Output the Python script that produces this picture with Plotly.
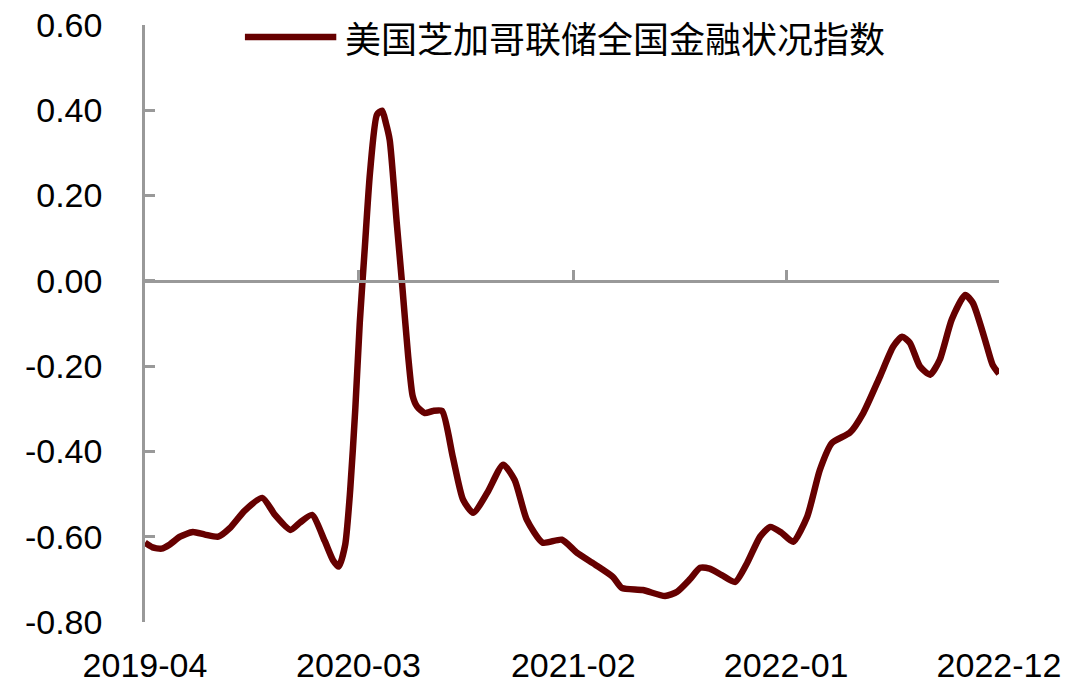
import plotly.graph_objects as go

# Data
dates = [
    "2019-04-01", "2019-04-13", "2019-04-27", "2019-05-10", "2019-05-26", "2019-06-15",
    "2019-07-04", "2019-07-25", "2019-08-12", "2019-09-05", "2019-10-02", "2019-10-22",
    "2019-11-15", "2019-11-30", "2019-12-19", "2020-01-08", "2020-01-21", "2020-01-30",
    "2020-02-09", "2020-02-17", "2020-02-25", "2020-03-03", "2020-03-11", "2020-03-19",
    "2020-03-30", "2020-04-07", "2020-04-13", "2020-04-19", "2020-04-30", "2020-05-08",
    "2020-05-18", "2020-05-25", "2020-06-01", "2020-06-13", "2020-06-26", "2020-07-10",
    "2020-07-27", "2020-08-12", "2020-08-28", "2020-09-19", "2020-10-14", "2020-11-01",
    "2020-11-20", "2020-12-15", "2021-01-14", "2021-02-07", "2021-03-07", "2021-04-04",
    "2021-04-18", "2021-05-21", "2021-06-25", "2021-07-14", "2021-08-03", "2021-08-19",
    "2021-09-03", "2021-09-22", "2021-10-13", "2021-11-01", "2021-11-21", "2021-12-07",
    "2021-12-25", "2022-01-12", "2022-02-03", "2022-02-23", "2022-03-14", "2022-04-11",
    "2022-05-02", "2022-05-28", "2022-06-18", "2022-07-02", "2022-07-14", "2022-07-30",
    "2022-08-15", "2022-08-30", "2022-09-18", "2022-10-09", "2022-10-21", "2022-11-09",
    "2022-11-21", "2022-12-01",
]
nfci = [
    -0.614, -0.625, -0.628, -0.618, -0.600, -0.589,
    -0.595, -0.600, -0.580, -0.538, -0.509, -0.549,
    -0.584, -0.567, -0.549, -0.610, -0.655, -0.670,
    -0.620, -0.490, -0.300, -0.098, 0.080, 0.253,
    0.390, 0.399, 0.370, 0.330, 0.136, 0.000,
    -0.178, -0.270, -0.295, -0.310, -0.305, -0.305,
    -0.413, -0.513, -0.544, -0.497, -0.431, -0.467,
    -0.560, -0.614, -0.607, -0.638, -0.665, -0.694,
    -0.720, -0.725, -0.739, -0.729, -0.700, -0.673,
    -0.675, -0.690, -0.706, -0.661, -0.600, -0.577,
    -0.591, -0.612, -0.553, -0.443, -0.380, -0.356,
    -0.310, -0.225, -0.154, -0.131, -0.145, -0.201,
    -0.220, -0.185, -0.090, -0.033, -0.052, -0.138,
    -0.197, -0.218,
]
series_name = "美国芝加哥联储全国金融状况指数"
x_ticks = ["2019-04-01", "2020-03-01", "2021-02-01", "2022-01-01", "2022-12-01"]
x_ticklabels = ["2019-04", "2020-03", "2021-02", "2022-01", "2022-12"]
y_ticks = [-0.8, -0.6, -0.4, -0.2, 0.0, 0.2, 0.4, 0.6]
y_ticklabels = ["-0.80", "-0.60", "-0.40", "-0.20", "0.00", "0.20", "0.40", "0.60"]

LINE_COLOR = "#660000"
AXIS_COLOR = "#999999"
FONT = "Liberation Sans, Arial, Noto Sans CJK SC, sans-serif"

fig = go.Figure()
fig.add_trace(go.Scatter(
    x=dates, y=nfci, mode="lines", name=series_name,
    line=dict(color=LINE_COLOR, width=6.5, shape="spline", smoothing=0.6),
    showlegend=False, xaxis="x", yaxis="y",
))
# invisible copy to carry the bottom label axis
fig.add_trace(go.Scatter(
    x=dates, y=nfci, mode="lines", line=dict(color="rgba(0,0,0,0)", width=0),
    showlegend=False, hoverinfo="skip", xaxis="x2", yaxis="y",
))

x_range = [x_ticks[0], x_ticks[-1]]
zero_pos = (0 - y_ticks[0]) / (y_ticks[-1] - y_ticks[0])

fig.update_layout(
    width=1080, height=689,
    margin=dict(l=145, r=81, t=25, b=67),
    paper_bgcolor="white", plot_bgcolor="white",
    font=dict(family=FONT, size=34, color="black"),
    xaxis=dict(
        type="date", range=x_range, anchor="free", position=zero_pos,
        showline=True, linecolor=AXIS_COLOR, linewidth=2.5,
        ticks="inside", ticklen=10, tickwidth=2.5, tickcolor=AXIS_COLOR,
        tickvals=x_ticks, showticklabels=False, showgrid=False, zeroline=False,
        automargin=False,
    ),
    xaxis2=dict(
        type="date", range=x_range, overlaying="x", matches="x", side="bottom",
        anchor="y", showline=False, showgrid=False, zeroline=False,
        ticks="outside", ticklen=13, tickcolor="rgba(0,0,0,0)",
        tickvals=x_ticks, ticktext=x_ticklabels, automargin=False,
        tickfont=dict(family=FONT, size=34, color="black"),
    ),
    yaxis=dict(
        range=[y_ticks[0], y_ticks[-1]], tickvals=y_ticks, ticktext=y_ticklabels,
        showline=True, linecolor=AXIS_COLOR, linewidth=2.5,
        ticks="inside", ticklen=10, tickwidth=2.5, tickcolor=AXIS_COLOR,
        showgrid=False, zeroline=False, ticklabelstandoff=33, automargin=False,
        tickfont=dict(family=FONT, size=34, color="black"),
    ),
)

# custom legend (long line swatch + text)
fig.add_shape(type="line", xref="paper", yref="paper",
              x0=0.117, x1=0.224, y0=0.98, y1=0.98,
              line=dict(color=LINE_COLOR, width=6.5))
fig.add_annotation(text=series_name, xref="paper", yref="paper",
                   x=0.232, y=0.98, xanchor="left", yanchor="middle",
                   showarrow=False, font=dict(family="Noto Sans CJK SC, sans-serif", size=36, color="black"))

fig.write_html("out.html", config={"displayModeBar": False},
               post_script="document.body.style.margin='0';document.body.style.overflow='hidden';")
